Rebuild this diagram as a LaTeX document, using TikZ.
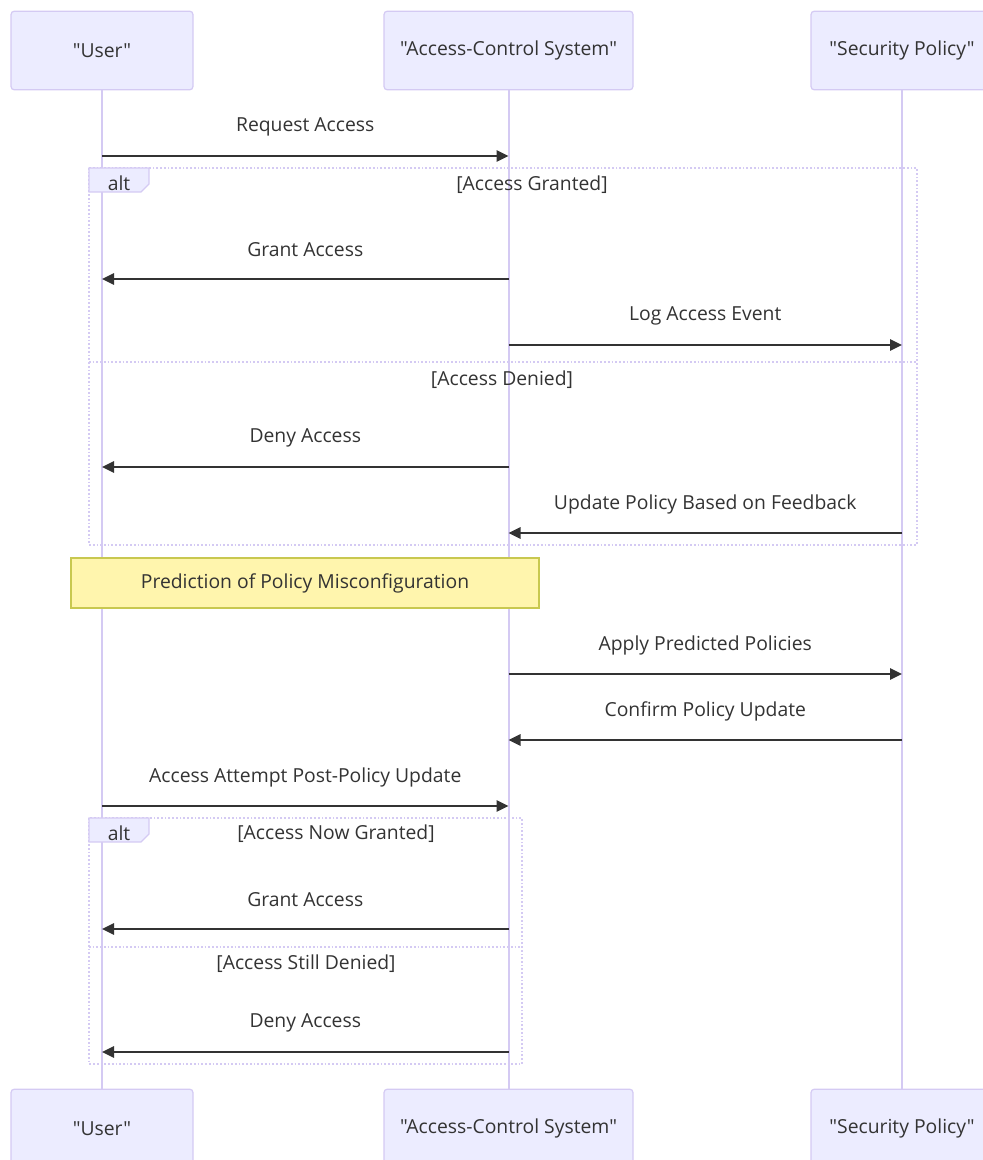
\documentclass[tikz,border=0pt]{standalone}
\usepackage{fontspec}
\setmainfont{Open Sans}[Ligatures=TeXOff]
\usetikzlibrary{arrows.meta}
\definecolor{actfill}{HTML}{ECECFF}
\definecolor{actline}{HTML}{D4CAF3}
\definecolor{txt}{HTML}{333333}
\definecolor{notefill}{HTML}{FFF5AD}
\definecolor{noteline}{HTML}{C8C850}
\tikzset{
  actor/.style={draw=actline, fill=actfill, rounded corners=2.5pt, line width=0.9pt, minimum width=136.5pt, minimum height=59pt, inner sep=0pt, text=txt, font=\fontsize{14.5}{16}\selectfont},
  life/.style={draw=actline, line width=1.5pt},
  msg/.style={draw=txt, line width=1.5pt, -{Triangle[length=9pt,width=8.5pt]}},
  mlabel/.style={text=txt, font=\fontsize{14.5}{16}\selectfont, inner sep=0pt, anchor=center, yshift=21.75pt},
  frame/.style={draw=actline, line width=1.3pt, dash pattern=on 1.3pt off 1.5pt},
  ctext/.style={text=txt, font=\fontsize{14.5}{16}\selectfont, inner sep=0pt},
  notebox/.style={draw=noteline, fill=notefill, line width=0.9pt, minimum width=351pt, minimum height=37.5pt, inner sep=0pt, text=txt, font=\fontsize{14.5}{16}\selectfont},
}
\begin{document}
\begin{tikzpicture}[x=0.75pt, y=-0.75pt]
\useasboundingbox (0,0) rectangle (982,1160);
% actors
\node[actor] (u1) at (102,50.5) {"User"};
\node[actor, minimum width=186.75pt] (a1) at (508.5,50.5) {"Access-Control System"};
\node[actor] (s1) at (902,50.5) {"Security Policy"};
\node[actor] (u2) at (102,1128.5) {"User"};
\node[actor, minimum width=186.75pt] (a2) at (508.5,1128.5) {"Access-Control System"};
\node[actor] (s2) at (902,1128.5) {"Security Policy"};
% lifelines
\draw[life] (u1.south) -- (u2.north);
\draw[life] (a1.south) -- (a2.north);
\draw[life] (s1.south) -- (s2.north);
% alt frame 1
\draw[frame] (89,168) rectangle (917,545);
\draw[frame] (89,362) -- (917,362);
\filldraw[draw=actline, fill=actfill, line width=0.9pt] (89,168) -- (149,168) -- (149,184) -- (141,192) -- (89,192) -- cycle;
\node[ctext] (alt1) at (119,183) {alt};
\node[ctext] (g1) at (532,185) {[Access Granted]};
\node[ctext] (d1) at (502,380) {[Access Denied]};
% alt frame 2
\draw[frame] (89,818) rectangle (522,1064);
\draw[frame] (89,947) -- (522,947);
\filldraw[draw=actline, fill=actfill, line width=0.9pt] (89,818) -- (149,818) -- (149,834) -- (141,842) -- (89,842) -- cycle;
\node[ctext] (alt2) at (119,833) {alt};
\node[ctext] (g2) at (336,834) {[Access Now Granted]};
\node[ctext] (d2) at (306,964) {[Access Still Denied]};
% note
\node[notebox] (note) at (305,583) {Prediction of Policy Misconfiguration};
% messages
\draw[msg] (u1 |- 0,156) -- (a1 |- 0,156) node[mlabel, midway] (m1) {Request Access};
\draw[msg] (a1 |- 0,279) -- (u1 |- 0,279) node[mlabel, midway] (m2) {Grant Access};
\draw[msg] (a1 |- 0,345) -- (s1 |- 0,345) node[mlabel, midway] (m3) {Log Access Event};
\draw[msg] (a1 |- 0,467) -- (u1 |- 0,467) node[mlabel, midway] (m4) {Deny Access};
\draw[msg] (s1 |- 0,533) -- (a1 |- 0,533) node[mlabel, midway] (m5) {Update Policy Based on Feedback};
\draw[msg] (a1 |- 0,674) -- (s1 |- 0,674) node[mlabel, midway] (m6) {Apply Predicted Policies};
\draw[msg] (s1 |- 0,740) -- (a1 |- 0,740) node[mlabel, midway] (m7) {Confirm Policy Update};
\draw[msg] (u1 |- 0,806) -- (a1 |- 0,806) node[mlabel, midway] (m8) {Access Attempt Post-Policy Update};
\draw[msg] (a1 |- 0,929) -- (u1 |- 0,929) node[mlabel, midway] (m9) {Grant Access};
\draw[msg] (a1 |- 0,1052) -- (u1 |- 0,1052) node[mlabel, midway] (m10) {Deny Access};
\end{tikzpicture}
\end{document}
